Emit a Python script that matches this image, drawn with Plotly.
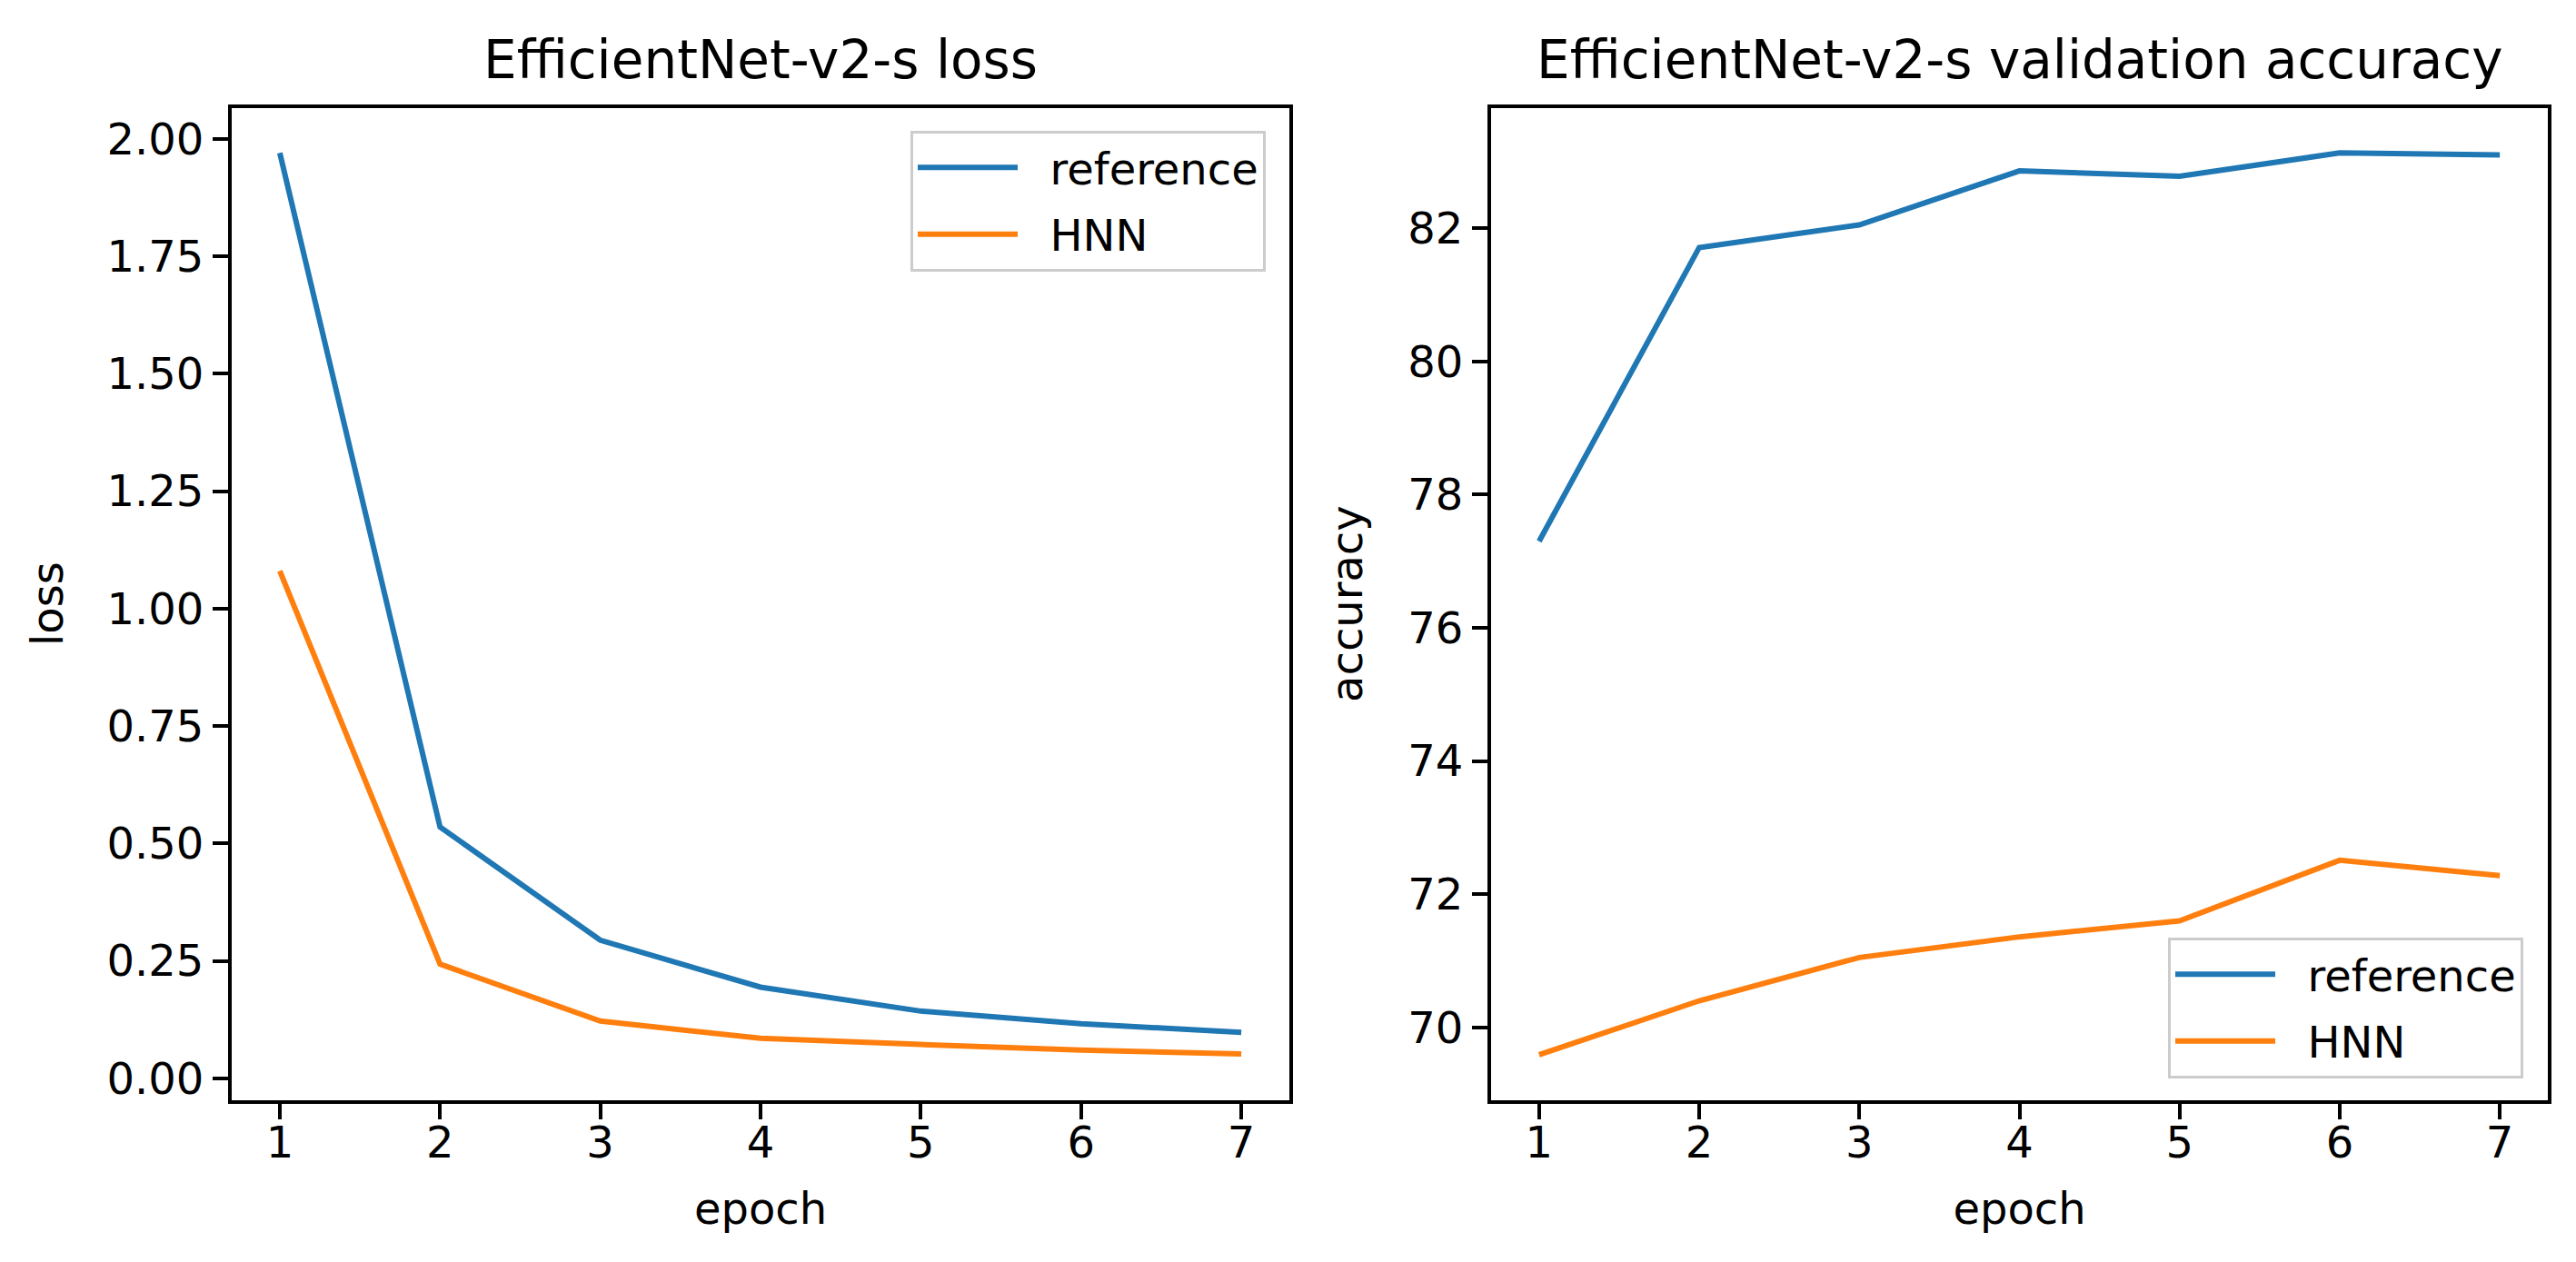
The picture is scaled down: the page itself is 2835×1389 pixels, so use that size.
import plotly.graph_objects as go

epochs = [1, 2, 3, 4, 5, 6, 7]
loss_reference = [1.970, 0.535, 0.294, 0.194, 0.143, 0.116, 0.098]
loss_hnn = [1.080, 0.243, 0.122, 0.085, 0.072, 0.060, 0.052]
acc_reference = [77.30, 81.71, 82.05, 82.86, 82.78, 83.13, 83.10]
acc_hnn = [69.59, 70.40, 71.05, 71.36, 71.60, 72.51, 72.28]
loss_ticks = [0.0, 0.25, 0.5, 0.75, 1.0, 1.25, 1.5, 1.75, 2.0]
acc_ticks = [70, 72, 74, 76, 78, 80, 82]
series_names = ["reference", "HNN"]

BLUE = "#1f77b4"
ORANGE = "#ff7f0e"
FONT = "DejaVu Sans"
W, H = 2835, 1389
LW = 6
PAD = "\u00a0\u00a0"

fig = go.Figure()
fig.add_trace(go.Scatter(x=epochs, y=loss_reference, mode="lines", name=PAD + series_names[0],
                         legendgroup="ref1",
                         line=dict(color=BLUE, width=LW), xaxis="x", yaxis="y", legend="legend"))
fig.add_trace(go.Scatter(x=epochs, y=loss_hnn, mode="lines", name=PAD + series_names[1],
                         legendgroup="hnn1",
                         line=dict(color=ORANGE, width=LW), xaxis="x", yaxis="y", legend="legend"))
fig.add_trace(go.Scatter(x=epochs, y=acc_reference, mode="lines", name=PAD + series_names[0],
                         legendgroup="ref2",
                         line=dict(color=BLUE, width=LW), xaxis="x2", yaxis="y2", legend="legend2"))
fig.add_trace(go.Scatter(x=epochs, y=acc_hnn, mode="lines", name=PAD + series_names[1],
                         legendgroup="hnn2",
                         line=dict(color=ORANGE, width=LW), xaxis="x2", yaxis="y2", legend="legend2"))

def px_x(p):
    return p / W

def px_y(p):
    return 1 - p / H

axis_common = dict(showgrid=False, zeroline=False, showline=True, linecolor="black", linewidth=4,
                   mirror=True, ticks="outside", ticklen=17, tickwidth=4, tickcolor="black",
                   tickfont=dict(family=FONT, size=48, color="black"))

legend_common = dict(bgcolor="rgba(255,255,255,0.8)", bordercolor="#cccccc", borderwidth=3,
                     itemwidth=110, tracegroupgap=8, traceorder="grouped",
                     font=dict(family=FONT, size=48, color="black"))

fig.update_layout(
    width=W, height=H,
    margin=dict(l=0, r=0, t=0, b=0),
    paper_bgcolor="white", plot_bgcolor="white",
    font=dict(family=FONT, color="black"),
    xaxis=dict(domain=[px_x(247), px_x(1411)], range=[0.7, 7.3], tickvals=epochs,
               ticklabelstandoff=-15,
               title=dict(text="epoch", font=dict(family=FONT, size=48), standoff=30),
               anchor="y", **axis_common),
    yaxis=dict(domain=[px_y(1206), px_y(111)], range=[-0.0459, 2.0659], tickvals=loss_ticks,
               tickformat=".2f",
               title=dict(text="loss", font=dict(family=FONT, size=48), standoff=34),
               anchor="x", **axis_common),
    xaxis2=dict(domain=[px_x(1633), px_x(2796)], range=[0.7, 7.3], tickvals=epochs,
                ticklabelstandoff=-15,
                title=dict(text="epoch", font=dict(family=FONT, size=48), standoff=30),
                anchor="y2", **axis_common),
    yaxis2=dict(domain=[px_y(1206), px_y(111)], range=[68.913, 83.807], tickvals=acc_ticks,
                title=dict(text="accuracy", font=dict(family=FONT, size=48), standoff=36),
                anchor="x2", **axis_common),
    legend=dict(x=px_x(1385), y=px_y(136), xanchor="right", yanchor="top", **legend_common),
    legend2=dict(x=px_x(2769), y=px_y(1182), xanchor="right", yanchor="bottom", **legend_common),
    annotations=[
        dict(text="EfficientNet-v2-s loss", x=(px_x(247) + px_x(1411)) / 2, y=px_y(94),
             xref="paper", yref="paper", xanchor="center", yanchor="bottom", showarrow=False,
             font=dict(family=FONT, size=58, color="black")),
        dict(text="EfficientNet-v2-s validation accuracy", x=(px_x(1633) + px_x(2796)) / 2,
             y=px_y(94), xref="paper", yref="paper", xanchor="center", yanchor="bottom",
             showarrow=False, font=dict(family=FONT, size=58, color="black")),
    ],
)

fig.write_html("out.html")
